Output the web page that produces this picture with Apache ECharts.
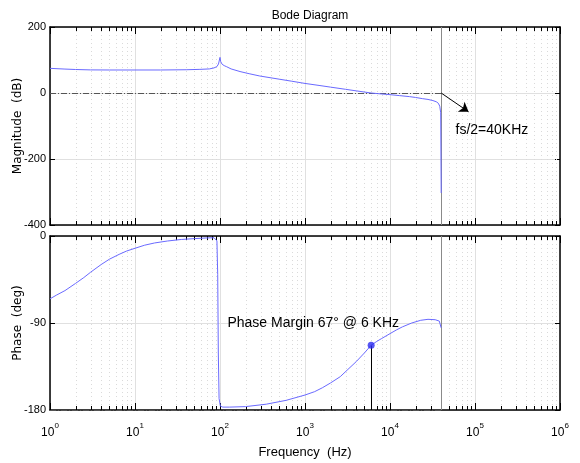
<!DOCTYPE html>
<html>
<head>
<meta charset="utf-8">
<script src="https://cdn.jsdelivr.net/npm/echarts@6/dist/echarts.min.js"></script>
<style>
  html, body { margin: 0; padding: 0; background: #fff; }
  #chart { width: 580px; height: 463px; }
</style>
</head>
<body>
<div id="chart"></div>
<script>
// Open-loop frequency response of the digital controller (Bode plot)

// Magnitude response: frequency in Hz, gain in dB
const freqMag = [1, 1.5, 2, 3, 5, 10, 20, 40, 58, 75, 85, 92, 96, 100, 102, 106, 112, 120, 135, 172, 220, 294, 500, 700, 1000, 1500, 2000, 3000, 4000, 6000, 8000, 10000, 13000, 17000, 20000, 24000, 28000, 32000, 35000, 37000, 38500, 39500, 40000];
const magDb = [74.7, 72.5, 71.2, 70, 69.7, 69.7, 69.7, 70.5, 71.6, 73, 76, 80, 88, 108, 95, 87, 83, 79.5, 73, 65, 58.5, 51.5, 41.8, 35.7, 29, 22.5, 17.8, 11.2, 6.5, 0, -3, -5, -8, -11, -13.5, -17, -19.5, -23, -26.5, -31, -40, -60, -303];

// Phase response: frequency in Hz, phase in degrees
const freqPh = [1, 1.2, 1.5, 2, 2.5, 3, 4, 5, 6.5, 8, 10, 13, 17, 24, 35, 50, 70, 85, 89, 92, 94, 95.5, 97.5, 101, 108, 130, 200, 350, 600, 1000, 1300, 1600, 2000, 2600, 3200, 4000, 5000, 6000, 7000, 8000, 10000, 12000, 14000, 18000, 23000, 28000, 34000, 38000, 40000, 40000];
const phaseDeg = [-65, -61, -56.5, -49, -43, -37.5, -29.5, -24, -19, -15.5, -12.7, -9.5, -7.2, -5.2, -3.6, -2.7, -2, -1.8, -2, -5, -40, -120, -168, -176, -177, -177, -176.5, -174, -170, -164.5, -161, -157, -152, -145.5, -138, -130, -121, -113, -109, -106, -101, -97, -94, -90, -87.2, -86.2, -86.6, -88, -89, -95];

// Axis ranges and tick steps
const freqRange = [1, 1e6];
const magRange = [-400, 200];
const magStep = 200;
const phaseRange = [-180, 0];
const phaseStep = 90;

// Annotated quantities
const nyquistHz = 40000;          // fs/2
const crossoverHz = 6000;         // gain crossover frequency
const phaseMarginDeg = 67;        // phase margin at crossover
const crossoverPhase = phaseMarginDeg - 180;

const sans = "'Liberation Sans Narrow', 'Liberation Sans', Arial, sans-serif";
const wide = "'DejaVu Sans', 'Liberation Sans', sans-serif";
const curveColor = '#6a6aff';

// Minor log ticks: 2..9 times each decade
const minorFreqs = [];
for (let d = freqRange[0]; d < freqRange[1]; d *= 10) {
  for (let m = 2; m <= 9; m++) minorFreqs.push(d * m);
}

const pairs = (xs, ys) => xs.map((x, i) => [x, ys[i]]);
const snap = v => Math.round(v) + 0.5;

function minorGrid(xi, yi, yMin, yMax) {
  return {
    type: 'custom', xAxisIndex: xi, yAxisIndex: yi, silent: true, z: 1,
    data: minorFreqs.map(f => [f, yMin]),
    renderItem: function (params, api) {
      const f = api.value(0);
      const top = api.coord([f, yMax]);
      const bot = api.coord([f, yMin]);
      const x = snap(top[0]);
      return {
        type: 'group',
        children: [
          { type: 'line', shape: { x1: x, y1: top[1], x2: x, y2: bot[1] },
            style: { stroke: '#dadada', lineWidth: 1, lineDash: [1, 3] } },
          { type: 'line', shape: { x1: x, y1: top[1], x2: x, y2: top[1] + 4 },
            style: { stroke: '#000', lineWidth: 1 } },
          { type: 'line', shape: { x1: x, y1: bot[1], x2: x, y2: bot[1] - 4 },
            style: { stroke: '#000', lineWidth: 1 } }
        ]
      };
    }
  };
}

function freqAxis(gridIndex, position, showLabels) {
  return {
    type: 'log', logBase: 10, gridIndex: gridIndex, position: position,
    min: freqRange[0], max: freqRange[1],
    axisLine: { show: true, onZero: false, lineStyle: { color: '#000', width: 1.5 } },
    axisTick: { show: true, inside: true, length: 7, lineStyle: { color: '#000', width: 1 } },
    splitLine: { show: position === 'bottom', lineStyle: { color: '#e0e0e0', width: 1 } },
    minorTick: { show: false },
    axisLabel: showLabels ? {
      show: true, margin: 12,
      formatter: v => '{b|10}{s|' + Math.round(Math.log10(v)) + '}',
      rich: {
        b: { fontFamily: sans, fontSize: 12, color: '#000', lineHeight: 17, verticalAlign: 'bottom' },
        s: { fontFamily: sans, fontSize: 8, color: '#000', lineHeight: 10, verticalAlign: 'top' }
      }
    } : { show: false }
  };
}

function valueAxis(gridIndex, position, range, step, name) {
  const left = position === 'left';
  return {
    type: 'value', gridIndex: gridIndex, position: position,
    min: range[0], max: range[1], interval: step,
    name: left ? name : '', nameLocation: 'middle', nameGap: 26, nameRotate: 90,
    nameMoveOverlap: false,
    nameTextStyle: { fontFamily: wide, fontSize: 12, color: '#000' },
    axisLine: { show: true, onZero: false, lineStyle: { color: '#000', width: 1.5 } },
    axisTick: { show: true, inside: true, length: 5, lineStyle: { color: '#000' } },
    splitLine: { show: left, lineStyle: { color: '#e0e0e0', width: 1 } },
    axisLabel: left ? { show: true, margin: 4, fontFamily: sans, fontSize: 11, color: '#000' } : { show: false }
  };
}

const chart = echarts.init(document.getElementById('chart'), null, { renderer: 'canvas' });

chart.setOption({
  animation: false,
  backgroundColor: '#fff',
  title: {
    text: 'Bode Diagram', left: 305, top: 5, textAlign: 'center',
    textStyle: { fontFamily: sans, fontSize: 12, fontWeight: 'normal', color: '#000' }
  },
  grid: [
    { left: 50, top: 27, width: 510, height: 198, containLabel: false, outerBoundsMode: 'none' },
    { left: 50, top: 236, width: 510, height: 174, containLabel: false, outerBoundsMode: 'none' }
  ],
  xAxis: [
    freqAxis(0, 'bottom', false),
    freqAxis(0, 'top', false),
    Object.assign(freqAxis(1, 'bottom', true), {
      name: 'Frequency  (Hz)', nameLocation: 'middle', nameGap: 36, nameMoveOverlap: false,
      nameTextStyle: { fontFamily: sans, fontSize: 13, color: '#000' }
    }),
    freqAxis(1, 'top', false)
  ],
  yAxis: [
    valueAxis(0, 'left', magRange, magStep, 'Magnitude  (dB)'),
    valueAxis(0, 'right', magRange, magStep, ''),
    valueAxis(1, 'left', phaseRange, phaseStep, 'Phase  (deg)'),
    valueAxis(1, 'right', phaseRange, phaseStep, '')
  ],
  series: [
    minorGrid(0, 0, magRange[0], magRange[1]),
    minorGrid(2, 2, phaseRange[0], phaseRange[1]),
    {
      name: 'Magnitude', type: 'line', xAxisIndex: 0, yAxisIndex: 0, z: 5,
      data: pairs(freqMag, magDb), showSymbol: false, symbol: 'none',
      lineStyle: { color: curveColor, width: 1 },
      markLine: {
        silent: true, symbol: ['none', 'none'], label: { show: false }, z: 3,
        data: [
          [{ coord: [freqRange[0], 0], lineStyle: { color: '#555', width: 1, type: [6, 2, 1, 2] } },
           { coord: [nyquistHz, 0] }],
          [{ coord: [nyquistHz, magRange[0]], lineStyle: { color: '#8a8a8a', width: 1, type: 'solid' } },
           { coord: [nyquistHz, magRange[1]] }],
          [{ coord: [nyquistHz, 0], symbol: 'none', lineStyle: { color: '#000', width: 1, type: 'solid' } },
           { coord: [84000, -57], symbol: 'arrow', symbolSize: 9 }]
        ]
      },
      markPoint: {
        silent: true, symbol: 'circle', symbolSize: 0,
        data: [{
          coord: [158000, -114],
          label: { show: true, position: 'inside', formatter: 'fs/2=40KHz',
                   fontFamily: sans, fontSize: 14, color: '#000' }
        }]
      }
    },
    {
      name: 'Phase', type: 'line', xAxisIndex: 2, yAxisIndex: 2, z: 5,
      data: pairs(freqPh, phaseDeg), showSymbol: false, symbol: 'none',
      lineStyle: { color: curveColor, width: 1 },
      markLine: {
        silent: true, symbol: ['none', 'none'], label: { show: false }, z: 3,
        data: [
          [{ coord: [freqRange[0], phaseRange[0]], lineStyle: { color: '#555', width: 1, type: [6, 2, 1, 2] } },
           { coord: [nyquistHz, phaseRange[0]] }],
          [{ coord: [nyquistHz, phaseRange[0]], lineStyle: { color: '#8a8a8a', width: 1, type: 'solid' } },
           { coord: [nyquistHz, phaseRange[1]] }],
          [{ coord: [crossoverHz, crossoverPhase], lineStyle: { color: '#000', width: 1, type: 'solid' } },
           { coord: [crossoverHz, phaseRange[0]] }]
        ]
      },
      markPoint: {
        silent: true, symbol: 'circle', symbolSize: 0,
        data: [{
          coord: [1250, -90],
          label: { show: true, position: 'inside',
                   formatter: 'Phase Margin ' + phaseMarginDeg + '° @ ' + (crossoverHz / 1000) + ' KHz',
                   fontFamily: sans, fontSize: 14, color: '#000' }
        }]
      }
    },
    {
      name: 'Crossover', type: 'scatter', xAxisIndex: 2, yAxisIndex: 2, z: 6,
      data: [[crossoverHz, crossoverPhase]],
      symbol: 'circle', symbolSize: 7,
      itemStyle: { color: '#2a2af0' }
    }
  ]
});
</script>
</body>
</html>
